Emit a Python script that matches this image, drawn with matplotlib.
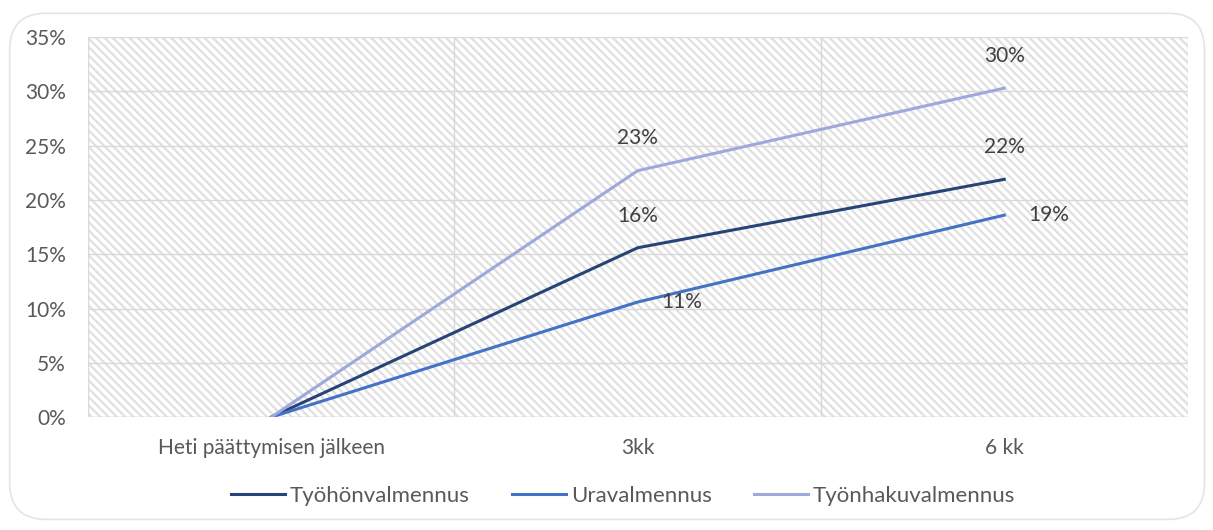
import matplotlib.pyplot as plt
from matplotlib.patches import FancyBboxPatch
from matplotlib.ticker import MultipleLocator, FuncFormatter

plt.rcParams['font.family'] = ['Lato', 'DejaVu Sans']
plt.rcParams['hatch.linewidth'] = 1.6
plt.rcParams['hatch.color'] = '#e0e0e0'

kategoriat = ["Heti päättymisen jälkeen", "3kk", "6 kk"]
tyohon = [0.0, 15.6, 21.9]
ura = [0.0, 10.6, 18.6]
tyonhaku = [0.0, 22.7, 30.3]
sarjat = ["Työhönvalmennus", "Uravalmennus", "Työnhakuvalmennus"]
varit = ["#264478", "#4472C4", "#9fa8da"]

fig = plt.figure(figsize=(12.13, 5.30), dpi=100)

# pyöristetty kehys koko kuvan ympärille
kehys = FancyBboxPatch((0.008, 0.02), 0.985, 0.955, boxstyle="round,pad=0,rounding_size=0.03",
                       transform=fig.transFigure, facecolor="none", edgecolor="#e4e4e4",
                       linewidth=1.2, mutation_aspect=12.13 / 5.30, zorder=-1)
fig.patches.append(kehys)

ax = fig.add_axes([0.0725, 0.213, 0.9065, 0.717])
ax.set_facecolor("white")
x = list(range(len(kategoriat)))
ax.set_xlim(-0.5, 2.5)
ax.set_ylim(0, 35)

# vinoviivoitettu tausta
ax.add_patch(plt.Rectangle((0, 0), 1, 1, transform=ax.transAxes, facecolor="white",
                           hatch="\\\\\\\\", edgecolor="#e0e0e0", linewidth=0, zorder=0))

ax.yaxis.set_major_locator(MultipleLocator(5))
ax.yaxis.set_major_formatter(FuncFormatter(lambda v, p: f"{v:.0f}%"))
ax.set_xticks(x)
ax.set_xticklabels(kategoriat)
ax.set_xticks([-0.5, 0.5, 1.5, 2.5], minor=True)
ax.grid(True, axis="y", which="major", color="#d9d9d9", linewidth=1, zorder=1)
ax.grid(True, axis="x", which="minor", color="#d9d9d9", linewidth=1, zorder=1)
ax.tick_params(which="both", length=0, labelsize=15, colors="#595959")
ax.tick_params(axis="x", pad=15)
ax.tick_params(axis="y", pad=16)
for s in ax.spines.values():
    s.set_visible(False)
ax.axhline(0, color="#d9d9d9", linewidth=1, zorder=1)

for arvot, nimi, vari in zip([tyohon, ura, tyonhaku], sarjat, varit):
    ax.plot(x, arvot, color=vari, linewidth=2.2, label=nimi, zorder=3)

teksti = dict(fontsize=15, color="#404040", zorder=4)
for i in (1, 2):
    ax.annotate(f"{tyohon[i]:.0f}%", (x[i], tyohon[i]), xytext=(0, 16), textcoords="offset points",
                ha="center", va="bottom", **teksti)
    ax.annotate(f"{tyonhaku[i]:.0f}%", (x[i], tyonhaku[i]), xytext=(0, 16), textcoords="offset points",
                ha="center", va="bottom", **teksti)
    ax.annotate(f"{ura[i]:.0f}%", (x[i], ura[i]), xytext=(17, 0), textcoords="offset points",
                ha="left", va="center", **teksti)

fig.legend(loc="center", bbox_to_anchor=(0.5135, 0.065), ncol=3, frameon=False,
           fontsize=16, handlelength=2.45, handletextpad=0.2, columnspacing=1.9,
           labelcolor="#595959")

fig.savefig("out.png", dpi=100)
